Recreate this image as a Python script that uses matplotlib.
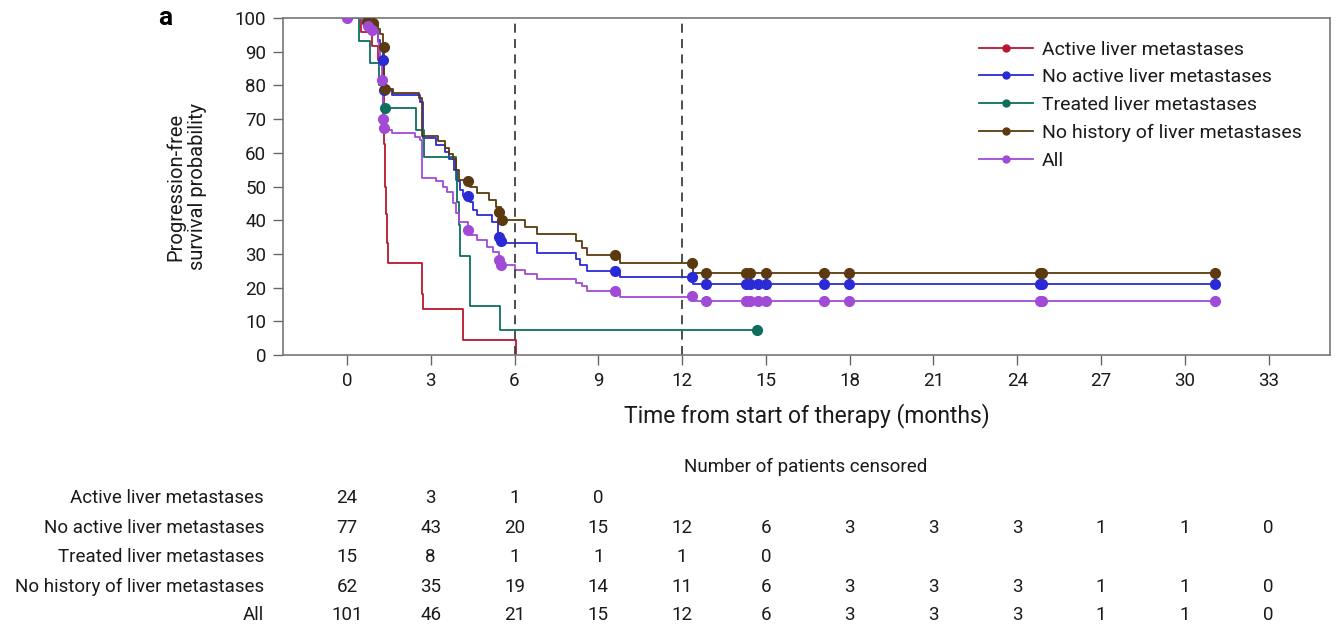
import matplotlib
matplotlib.use("Agg")
import matplotlib.pyplot as plt
from matplotlib.transforms import blended_transform_factory

plt.rcParams['font.family'] = ['Roboto', 'DejaVu Sans']

# curve data (months, survival %)
gruppi = ['Active liver metastases', 'No active liver metastases', 'Treated liver metastases',
          'No history of liver metastases', 'All']
colori = ['#b8182e', '#2a2ad6', '#0d6e5e', '#5a3a0e', '#a04ad6']

t_active = [0, 0.5, 0.9, 1.1, 1.28, 1.3, 1.32, 1.34, 1.36, 1.38, 1.4, 1.42, 1.45, 1.48, 2.68, 2.72, 4.15, 6.05]
s_active = [100, 95.8, 91.7, 87.5, 83.3, 79.2, 70.8, 62.5, 58.3, 50, 41.7, 37.5, 33.3, 27.3, 18.2, 13.6, 4.5, 0]
c_active_t = []
c_active_s = []

t_noact = [0, 0.6, 0.8, 1.0, 1.1, 1.2, 1.28, 1.32, 1.34, 1.6, 2.6, 2.72, 3.2, 3.5, 3.66, 3.85, 3.93, 4.05,
           4.15, 4.4, 4.5, 4.66, 5.19, 5.42, 5.5, 6.8, 8.2, 8.35, 8.6, 9.79, 12.4, 31.1]
s_noact = [100, 98.7, 97.4, 96.1, 93.5, 90.9, 87.5, 80, 78.6, 77.2, 75.2, 64.3, 62.3, 60.3, 58.3, 55, 51.5, 49,
           47.2, 45.5, 43, 41.5, 39.5, 35.1, 33.3, 30.2, 28.5, 26.7, 25, 23, 21.1, 21.1]
c_noact_t = [1.3, 1.33, 4.35, 5.46, 5.52, 9.6, 12.36, 12.87, 14.29, 14.43, 14.73, 15.02, 17.07, 17.98, 24.8, 24.9, 31.1]
c_noact_s = [87.5, 78.6, 47.2, 35.1, 33.8, 25, 23, 21.1, 21.1, 21.1, 21.1, 21.1, 21.1, 21.1, 21.1, 21.1, 21.1]

t_treat = [0, 0.44, 0.84, 1.14, 1.3, 2.46, 2.76, 3.9, 3.95, 4.0, 4.05, 4.41, 5.48, 14.7]
s_treat = [100, 93.3, 86.7, 80, 73.3, 66.7, 58.7, 52, 45.3, 38.7, 29.3, 14.6, 7.3, 7.3]
c_treat_t = [1.36, 14.7]
c_treat_s = [73.3, 7.3]

t_nohist = [0, 0.8, 1.1, 1.2, 1.28, 1.34, 1.4, 1.64, 2.57, 2.7, 3.26, 3.5, 3.66, 3.8, 3.9, 4.0, 4.4, 4.66,
            5.1, 5.35, 5.5, 5.55, 6.38, 6.8, 8.2, 8.4, 8.6, 9.79, 12.4, 31.1]
s_nohist = [100, 98.4, 96.8, 95.2, 91.5, 80.6, 79, 77.6, 76.3, 65, 63.5, 61.5, 59.6, 58.3, 54.8, 52, 50, 48,
            46, 44, 42.4, 40, 38.1, 35.9, 33.7, 31.7, 29.7, 27.2, 24.4, 24.4]
c_nohist_t = [0.7, 0.95, 1.32, 1.38, 4.35, 5.46, 5.55, 9.6, 12.36, 12.87, 14.29, 14.43, 15.02, 17.07, 17.98, 24.8, 24.9, 31.1]
c_nohist_s = [98.9, 98.4, 91.5, 79, 51.7, 42.4, 40, 29.7, 27.2, 24.4, 24.4, 24.4, 24.4, 24.4, 24.4, 24.4, 24.4, 24.4]

t_all = [0, 0.55, 0.7, 0.85, 0.95, 1.1, 1.15, 1.2, 1.25, 1.3, 1.35, 1.42, 1.6, 2.44, 2.6, 2.7, 3.2, 3.45,
         3.6, 3.8, 3.9, 4.0, 4.35, 4.45, 4.66, 5.0, 5.24, 5.45, 5.5, 6.0, 6.38, 6.8, 8.2, 8.4, 8.6, 9.79, 12.4, 31.1]
s_all = [100, 99, 98, 97, 96, 93, 90, 86, 81.5, 70, 67.5, 66.8, 65.8, 64.8, 63.8, 52.4, 51.5, 50,
         48.5, 45, 42, 39.5, 37.1, 35.6, 34.1, 31.9, 30.6, 28.2, 26.7, 25.2, 24, 22.7, 21.5, 20.5, 19.1, 17.3, 15.9, 15.9]
c_all_t = [0, 0.75, 0.9, 1.25, 1.3, 1.33, 4.35, 5.45, 5.5, 9.6, 12.36, 12.87, 14.29, 14.43, 14.73, 15.02, 17.07, 17.98, 24.8, 24.9, 31.1]
c_all_s = [100, 97.5, 96.5, 81.5, 70, 67.5, 37.1, 28.2, 26.7, 19.1, 17.5, 15.9, 15.9, 15.9, 15.9, 15.9, 15.9, 15.9, 15.9, 15.9, 15.9]

tempi = [t_active, t_noact, t_treat, t_nohist, t_all]
sopravv = [s_active, s_noact, s_treat, s_nohist, s_all]
cens_t = [c_active_t, c_noact_t, c_treat_t, c_nohist_t, c_all_t]
cens_s = [c_active_s, c_noact_s, c_treat_s, c_nohist_s, c_all_s]

# table under the chart
etichette_tabella = ['Active liver metastases', 'No active liver metastases', 'Treated liver metastases',
                     'No history of liver metastases', 'All']
mesi_tabella = [0, 3, 6, 9, 12, 15, 18, 21, 24, 27, 30, 33]
n_active = [24, 3, 1, 0]
n_noact = [77, 43, 20, 15, 12, 6, 3, 3, 3, 1, 1, 0]
n_treat = [15, 8, 1, 1, 1, 0]
n_nohist = [62, 35, 19, 14, 11, 6, 3, 3, 3, 1, 1, 0]
n_all = [101, 46, 21, 15, 12, 6, 3, 3, 3, 1, 1, 0]
righe_tabella = [n_active, n_noact, n_treat, n_nohist, n_all]

fig = plt.figure(figsize=(13.39, 6.35), dpi=100)
ax = fig.add_axes([283 / 1339, 1 - 355 / 635, (1330 - 283) / 1339, (355 - 18) / 635])

for i in range(len(gruppi)):
    ax.step(tempi[i], sopravv[i], where='post', color=colori[i], lw=1.3,
            marker='o', markevery=[], label=gruppi[i])
    ax.plot(cens_t[i], cens_s[i], 'o', color=colori[i], ms=7, zorder=3)

ax.axvline(6, color='#404040', ls=(0, (5, 3.5)), lw=1.3)
ax.axvline(12, color='#404040', ls=(0, (5, 3.5)), lw=1.3)

ax.set_xlim(-2.29, 35.2)
ax.set_ylim(0, 100)
ax.set_xticks(mesi_tabella)
ax.set_yticks(range(0, 101, 10))
ax.tick_params(labelsize=13.5, length=7, width=1, color='#666666', pad=5, labelcolor='#1a1a1a')
for sp in ax.spines.values():
    sp.set_color('#777777')
    sp.set_linewidth(1.2)

ax.set_xlabel('Time from start of therapy (months)', fontsize=16.5, labelpad=10, color='#1a1a1a')
ax.set_ylabel('Progression-free\nsurvival probability', fontsize=14.5, labelpad=20, color='#1a1a1a')

leg = ax.legend(loc='upper right', bbox_to_anchor=(0.99, 0.985), frameon=False, fontsize=14,
                handlelength=2.8, handletextpad=0.45, labelspacing=0.5)
for h in leg.get_lines():
    h.set_markersize(5)
for t in leg.get_texts():
    t.set_color('#1a1a1a')

fig.text(158 / 1339, 1 - 18 / 635, 'a', fontsize=19, fontweight='bold', ha='left', va='center')

trans = blended_transform_factory(ax.transData, fig.transFigure)
fig.text(806 / 1339, 1 - 467 / 635, 'Number of patients censored', fontsize=13.5, ha='center', va='center',
         color='#1a1a1a')
y_righe = [498, 528, 557, 587, 615]
for etichetta, valori, yp in zip(etichette_tabella, righe_tabella, y_righe):
    fig.text(264 / 1339, 1 - yp / 635, etichetta, fontsize=13.5, ha='right', va='center', color='#1a1a1a')
    for m, v in zip(mesi_tabella, valori):
        ax.text(m, 1 - yp / 635, str(v), transform=trans, fontsize=13.5, ha='center', va='center',
                color='#1a1a1a')

fig.savefig('out.png', dpi=100)
